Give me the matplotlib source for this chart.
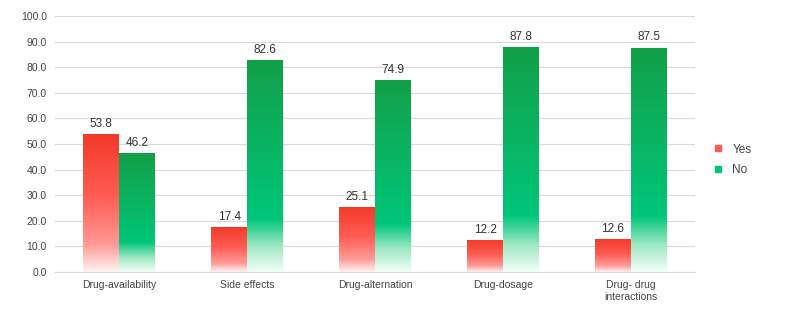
import numpy as np
import matplotlib.pyplot as plt
from matplotlib.colors import LinearSegmentedColormap
from matplotlib.lines import Line2D

plt.rcParams['font.family'] = ['Liberation Sans', 'DejaVu Sans']

categories = ["Drug-availability", "Side effects", "Drug-alternation",
              "Drug-dosage", "Drug- drug\ninteractions"]
yes_vals = [53.8, 17.4, 25.1, 12.2, 12.6]
no_vals = [46.2, 82.6, 74.9, 87.8, 87.5]

# gradients run bottom (0) -> top (1) of each bar
red_cmap = LinearSegmentedColormap.from_list(
    "red", [(0.0, "#fff4f4"), (0.2, "#ff9a96"), (0.55, "#ff5c54"), (1.0, "#f23a2a")])
green_cmap = LinearSegmentedColormap.from_list(
    "green", [(0.0, "#f2fff8"), (0.12, "#9fe8c4"), (0.25, "#00c67a"), (1.0, "#12a048")])

fig = plt.figure(figsize=(7.87, 3.10), dpi=100)
ax = fig.add_axes([0.070, 0.123, 0.813, 0.825])

bar_w = 0.28
grad = np.linspace(0, 1, 256).reshape(-1, 1)
x = np.arange(len(categories))

def grad_bar(xc, h, cmap):
    ax.imshow(grad, extent=[xc - bar_w / 2, xc + bar_w / 2, 0, h],
              origin='lower', cmap=cmap, aspect='auto', zorder=2)

for i in range(len(categories)):
    grad_bar(x[i] - bar_w / 2, yes_vals[i], red_cmap)
    grad_bar(x[i] + bar_w / 2, no_vals[i], green_cmap)
    ax.text(x[i] - bar_w / 2, yes_vals[i] + 1.8, f"{yes_vals[i]:.1f}",
            ha='center', va='bottom', fontsize=8.5, color='#333333')
    ax.text(x[i] + bar_w / 2, no_vals[i] + 1.8, f"{no_vals[i]:.1f}",
            ha='center', va='bottom', fontsize=8.5, color='#333333')

ax.set_xlim(-0.5, len(categories) - 0.5)
ax.set_ylim(0, 100)
ax.set_yticks(np.arange(0, 101, 10))
ax.set_yticklabels([f"{v:.1f}" for v in np.arange(0, 101, 10)])
ax.set_xticks(x)
ax.set_xticklabels(categories)
ax.tick_params(length=0, labelsize=7.5, colors='#444444', pad=6)
ax.grid(axis='y', color='#d9d9d9', linewidth=0.8, zorder=0)
ax.set_axisbelow(True)
for s in ['top', 'right', 'left']:
    ax.spines[s].set_visible(False)
ax.spines['bottom'].set_color('#d9d9d9')

handles = [Line2D([], [], marker='s', linestyle='', color='#ff5a52', markersize=4),
           Line2D([], [], marker='s', linestyle='', color='#00c67a', markersize=4)]
fig.legend(handles, ["Yes", "No"], loc='center left', bbox_to_anchor=(0.884, 0.485),
           frameon=False, fontsize=8.5, handletextpad=0.2, labelspacing=0.7,
           labelcolor='#444444')

fig.savefig("out.png", dpi=100)
